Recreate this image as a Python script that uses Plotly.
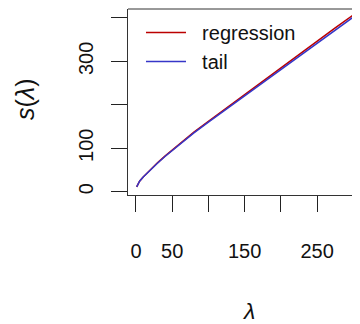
import plotly.graph_objects as go

lam = [1, 5, 10, 20, 30, 40, 50, 60, 80, 100, 125, 150, 175, 200, 225, 250, 275, 300]
s_regression = [11, 24, 34, 51, 67, 82, 96, 110, 137, 162, 193, 224, 254, 285, 316, 346, 377, 407]
s_tail = [11, 24, 34, 50.5, 66, 81, 95, 109, 135.5, 160, 190.5, 221, 251, 281, 311.5, 341.5, 372, 402]

x_ticks = [0, 50, 100, 150, 200, 250, 300]
x_ticktext = ["0", "50", "", "150", "", "250", ""]
y_ticks = [0, 100, 200, 300, 400]
y_ticktext = ["0", "100", "", "300", ""]

FONT = "Liberation Sans"
RED = "#BB0000"
BLUE = "#3636C8"

# page body has an 8px margin; the figure is sized to fill the rest of the window
W, H = 352, 316
L, T, B = 120, 1, 129
PW, PH = W - L, H - T - B

fig = go.Figure()
fig.add_trace(go.Scatter(x=lam, y=s_regression, mode="lines", name="\u00a0\u00a0regression",
                         line=dict(color=RED, width=1.5)))
fig.add_trace(go.Scatter(x=lam, y=s_tail, mode="lines", name="\u00a0\u00a0tail",
                         line=dict(color=BLUE, width=1.5)))

axis_common = dict(showgrid=False, zeroline=False, showline=True, linecolor="#333333",
                   linewidth=1, ticks="outside", ticklen=16, tickwidth=1, tickcolor="#222222",
                   tickfont=dict(family=FONT, size=20, color="#111111"))

fig.update_xaxes(range=[-11.0, 309.2], tickvals=x_ticks, ticktext=x_ticktext,
                 ticklabelstandoff=22, **axis_common)
fig.update_yaxes(range=[-7.6, 420.5], tickvals=y_ticks, ticktext=y_ticktext,
                 tickangle=-90, ticklabelstandoff=10, **axis_common)

# top border of the box
fig.add_shape(type="line", xref="paper", yref="paper", x0=0, x1=1, y0=1, y1=1,
              line=dict(color="#333333", width=1))

fig.add_annotation(text="<i>λ</i>", xref="paper", yref="paper", x=(240 - L) / PW,
                   y=-(303 - (T + PH)) / PH, showarrow=False, xanchor="center", yanchor="middle",
                   font=dict(family=FONT, size=23, color="#111111"))
fig.add_annotation(text="<i>s</i>(<i>λ</i>)", xref="paper", yref="paper", x=-(L - 17) / PW,
                   y=((T + PH) - 92) / PH, showarrow=False, xanchor="center", yanchor="middle",
                   textangle=-90, font=dict(family=FONT, size=25, color="#111111"))

fig.update_layout(
    width=W, height=H,
    margin=dict(l=L, r=0, t=T, b=B),
    paper_bgcolor="white", plot_bgcolor="white",
    showlegend=True,
    legend=dict(x=0.056, y=0.978, xanchor="left", yanchor="top", bgcolor="rgba(0,0,0,0)",
                font=dict(family=FONT, size=20, color="#111111"), itemwidth=40,
                tracegroupgap=0),
)

fig.write_html("out.html")
